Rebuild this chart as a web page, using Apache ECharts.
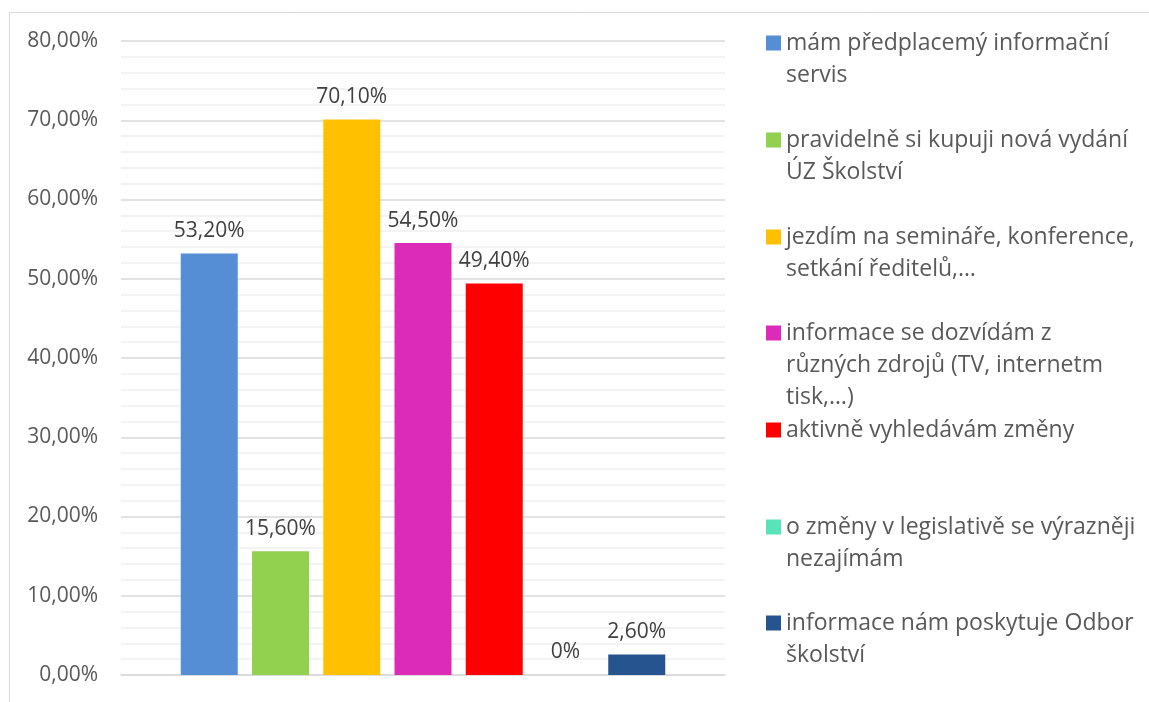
<!DOCTYPE html>
<html>
<head>
<meta charset="utf-8">
<script src="https://cdn.jsdelivr.net/npm/echarts@6/dist/echarts.min.js"></script>
<style>
html,body{margin:0;padding:0;background:#fff;}
#c{width:1149px;height:702px;}
</style>
</head>
<body>
<div id="c"></div>
<script>
const categories = [
  "mám předplacemý informační\nservis",
  "pravidelně si kupuji nová vydání\nÚZ Školství",
  "jezdím na semináře, konference,\nsetkání ředitelů,…",
  "informace se dozvídám z\nrůzných zdrojů (TV, internetm\ntisk,…)",
  "aktivně vyhledávám změny",
  "o změny v legislativě se výrazněji\nnezajímám",
  "informace nám poskytuje Odbor\nškolství"
];
const values = [53.2, 15.6, 70.1, 54.5, 49.4, 0, 2.6];
const colors = ["#558ED5", "#92D050", "#FFC000", "#DC2BB8", "#FF0000", "#5AE2B8", "#26548F"];
const yMin = 0, yMax = 80, yInterval = 10;

const FONT = "'Open Sans', sans-serif";
const LH = 32;
const legendFirstLine = [43, 140, 237, 333, 430, 527, 623];

function pct(v) {
  if (v === 0) return "0%";
  return v.toFixed(2).replace('.', ',') + '%';
}

const chart = echarts.init(document.getElementById('c'), null, {renderer: 'canvas'});

const series = categories.map((name, i) => ({
  type: 'bar',
  name: name,
  data: [values[i]],
  barWidth: 57,
  barGap: '25%',
  itemStyle: {color: colors[i]},
  label: {
    show: true,
    position: 'top',
    distance: 12,
    formatter: p => pct(p.value),
    color: '#404040',
    fontSize: 21,
    fontFamily: FONT
  }
}));

const legends = categories.map((name, i) => {
  const n = name.split('\n').length;
  return {
    data: [name],
    orient: 'vertical',
    left: 766,
    top: legendFirstLine[i] - (2 * n - 1) * LH / 2,
    padding: 0,
    itemWidth: 15,
    itemHeight: 15,
    icon: 'rect',
    selectedMode: false,
    formatter: nm => '\n'.repeat(n - 1) + nm,
    textStyle: {
      fontSize: 23,
      fontFamily: FONT,
      color: '#595959',
      lineHeight: LH
    }
  };
});

chart.setOption({
  animation: false,
  backgroundColor: '#fff',
  grid: {left: 121, right: 424, top: 41, bottom: 27},
  graphic: [{
    type: 'rect',
    shape: {x: 9.5, y: 12.5, width: 1300, height: 900},
    style: {fill: 'none', stroke: '#d9d9d9', lineWidth: 1}
  }],
  legend: legends,
  xAxis: {
    type: 'category',
    data: [''],
    axisLine: {show: true, lineStyle: {color: '#d9d9d9', width: 1.5}},
    axisTick: {show: false},
    axisLabel: {show: false}
  },
  yAxis: {
    type: 'value',
    min: yMin,
    max: yMax,
    interval: yInterval,
    axisLine: {show: false},
    axisTick: {show: false},
    axisLabel: {
      formatter: v => v.toFixed(2).replace('.', ',') + '%',
      fontSize: 21,
      fontFamily: FONT,
      color: '#595959',
      margin: 23
    },
    splitLine: {lineStyle: {color: '#d9d9d9', width: 1.5}},
    minorTick: {show: false, splitNumber: 5},
    minorSplitLine: {show: true, lineStyle: {color: '#f0f0f0', width: 1.5}}
  },
  series: series
});
</script>
</body>
</html>
